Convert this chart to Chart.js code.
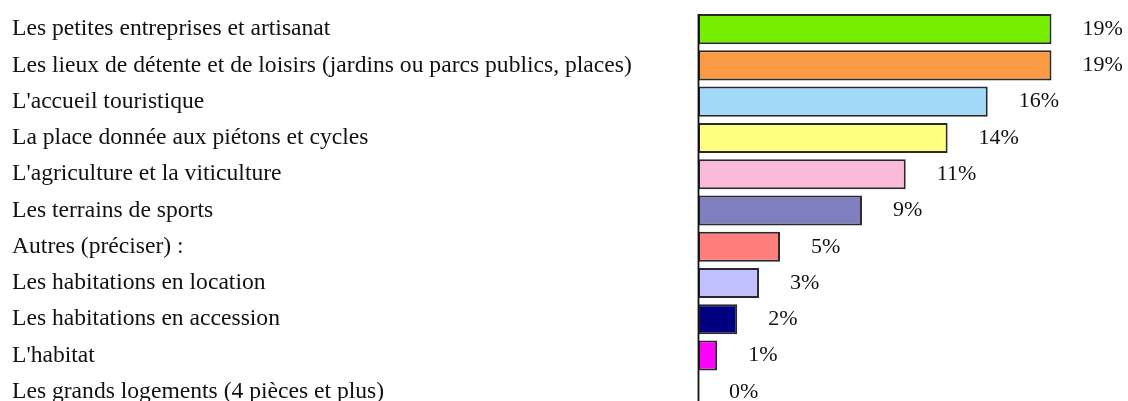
<!DOCTYPE html>
<html>
<head>
<meta charset="utf-8">
<script src="https://cdn.jsdelivr.net/npm/chart.js@4.4.1/dist/chart.umd.min.js"></script>
<style>
html,body{margin:0;padding:0;background:#fff;overflow:hidden;}
#wrap{position:relative;width:1128px;height:417px;}
</style>
</head>
<body>
<div id="wrap"><canvas id="c"></canvas></div>
<script>
const categories = [
  "Les petites entreprises et artisanat",
  "Les lieux de détente et de loisirs (jardins ou parcs publics, places)",
  "L'accueil touristique",
  "La place donnée aux piétons et cycles",
  "L'agriculture et la viticulture",
  "Les terrains de sports",
  "Autres (préciser) :",
  "Les habitations en location",
  "Les habitations en accession",
  "L'habitat",
  "Les grands logements (4 pièces et plus)"
];
const values = [19.4, 19.4, 15.9, 13.7, 11.4, 9.0, 4.5, 3.35, 2.15, 1.05, 0];
const valueLabels = ["19%","19%","16%","14%","11%","9%","5%","3%","2%","1%","0%"];
const colors = ["#76EE00","#FB9A44","#A2D9F9","#FFFF80","#FBBAD9","#7F7FBF","#FF7F7F","#C0C0FF","#000080","#FF00FF","#FFFFFF"];

const FONT = '"Liberation Serif", "Times New Roman", serif';

const valueLabelPlugin = {
  id: 'valueLabels',
  afterDatasetsDraw(chart) {
    const ctx = chart.ctx;
    const meta = chart.getDatasetMeta(0);
    const xs = chart.scales.x;
    ctx.save();
    ctx.font = '22px ' + FONT;
    ctx.fillStyle = '#111';
    ctx.textAlign = 'left';
    ctx.textBaseline = 'middle';
    meta.data.forEach((bar, i) => {
      ctx.fillText(valueLabels[i], bar.x + 31, bar.y);
    });
    // axis line from first bar top to bottom
    const x0 = Math.round(xs.getPixelForValue(0)) + 0.5;
    const first = meta.data[0];
    const top = first.y - first.height / 2;
    ctx.strokeStyle = '#111';
    ctx.lineWidth = 1.8;
    ctx.beginPath();
    ctx.moveTo(x0, top);
    ctx.lineTo(x0, chart.chartArea.bottom);
    ctx.stroke();
    ctx.restore();
  }
};

new Chart(document.getElementById('c'), {
  type: 'bar',
  data: {
    labels: categories,
    datasets: [{
      data: values,
      backgroundColor: colors,
      borderColor: '#2a2a2a',
      borderWidth: 2,
      borderSkipped: false,
      barPercentage: 0.83,
      categoryPercentage: 1.0
    }]
  },
  options: {
    indexAxis: 'y',
    responsive: true,
    maintainAspectRatio: false,
    animation: false,
    layout: { padding: { left: 12, right: 0, top: 11, bottom: 0 } },
    plugins: { legend: { display: false }, tooltip: { enabled: false } },
    scales: {
      x: {
        min: 0, max: 23.6,
        display: false
      },
      y: {
        grid: { display: false, drawTicks: false },
        border: { display: false },
        afterFit(scale) { scale.width = 686; },
        ticks: {
          crossAlign: 'far',
          color: '#111',
          padding: 0,
          font: { family: FONT, size: 23.6, lineHeight: 0.6 }
        }
      }
    }
  },
  plugins: [valueLabelPlugin]
});
</script>
</body>
</html>
